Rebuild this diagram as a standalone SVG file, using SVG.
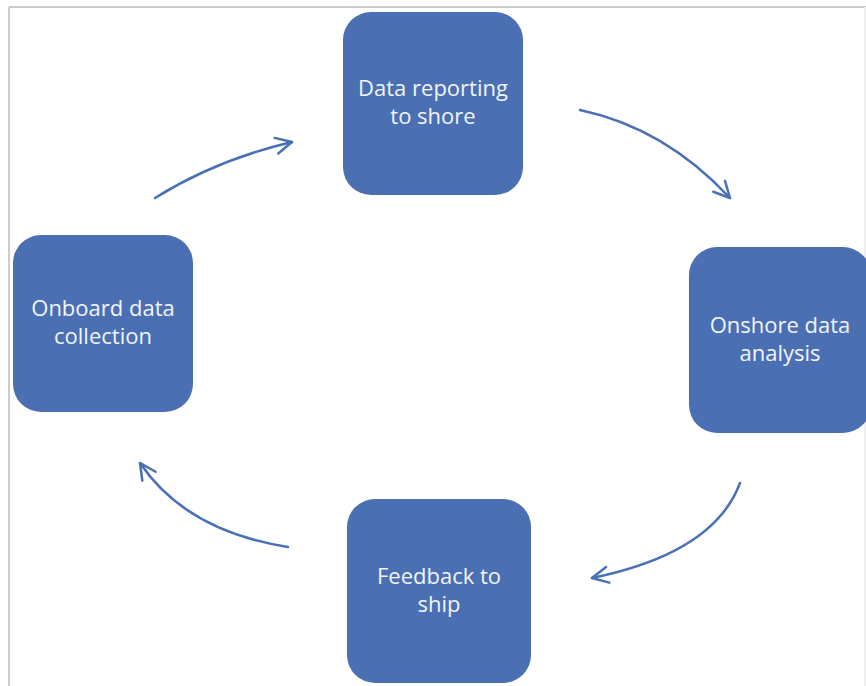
<svg xmlns="http://www.w3.org/2000/svg" width="866" height="686" viewBox="0 0 866 686">
<style>
.node{fill:#4a6fb3;}
.lbl{fill:#f2f5fa;font-family:"Open Sans","Liberation Sans",Arial,sans-serif;font-size:22px;text-anchor:middle;}
.conn{fill:none;stroke:#4a70b5;stroke-width:2.5;stroke-linecap:round;}
</style>
<defs>
<marker id="arr" markerUnits="userSpaceOnUse" markerWidth="24" markerHeight="24" refX="17" refY="10" orient="auto" overflow="visible">
<path d="M1,2 L17,10 L1,18" fill="none" stroke="#4a70b5" stroke-width="2.5" stroke-linecap="round" stroke-linejoin="round"/>
</marker>
</defs>
<rect x="0" y="0" width="866" height="686" fill="#ffffff"/>
<g id="frame" fill="none" stroke="#cccccc" stroke-width="2">
<line x1="9" y1="7" x2="866" y2="7"/>
<line x1="9" y1="7" x2="9" y2="686"/>
<line x1="865" y1="7" x2="865" y2="686" stroke="#eeeeee"/>
</g>
<g id="connectors">
<path class="conn" d="M155,198 Q216,160 292,142" marker-end="url(#arr)"/>
<path class="conn" d="M580,110 Q665,128 730,198" marker-end="url(#arr)"/>
<path class="conn" d="M740,483 Q714,553 592,578" marker-end="url(#arr)"/>
<path class="conn" d="M288,547 Q186,531 140,463" marker-end="url(#arr)"/>
</g>
<g id="n-reporting">
<rect class="node" x="343" y="12" width="180" height="183" rx="28"/>
<text class="lbl" x="433" y="96">Data reporting</text>
<text class="lbl" x="433" y="124">to shore</text>
</g>
<g id="n-analysis">
<rect class="node" x="689" y="247" width="182" height="186" rx="28"/>
<text class="lbl" x="780" y="333">Onshore data</text>
<text class="lbl" x="780" y="361">analysis</text>
</g>
<g id="n-feedback">
<rect class="node" x="347" y="499" width="184" height="184" rx="28"/>
<text class="lbl" x="439" y="584">Feedback to</text>
<text class="lbl" x="439" y="612">ship</text>
</g>
<g id="n-onboard">
<rect class="node" x="13" y="235" width="180" height="177" rx="28"/>
<text class="lbl" x="103" y="316">Onboard data</text>
<text class="lbl" x="103" y="344">collection</text>
</g>
</svg>
